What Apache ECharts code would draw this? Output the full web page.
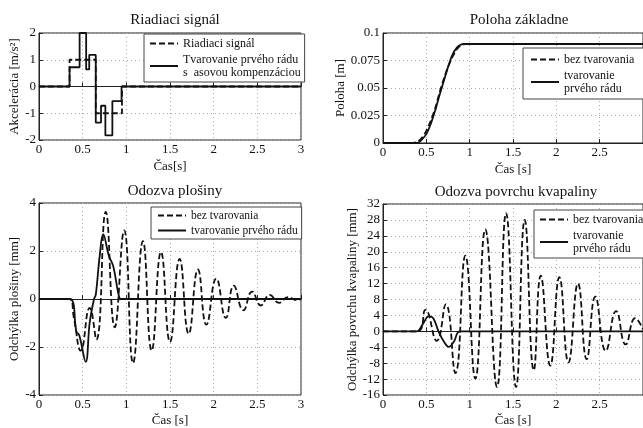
<!DOCTYPE html>
<html>
<head>
<meta charset="utf-8">
<script src="https://cdn.jsdelivr.net/npm/echarts@6/dist/echarts.min.js"></script>
<style>
  html, body { margin: 0; padding: 0; background: #fff; }
  #chart { width: 643px; height: 428px; }
</style>
</head>
<body>
<div id="chart"></div>
<script>
// time [s], value pairs
const accReference = [[0, 0], [0.35, 0], [0.35, 1], [0.65, 1], [0.65, -1], [0.95, -1], [0.95, 0], [3, 0]];
const accShaped = [[0, 0], [0.35, 0], [0.35, 0.72], [0.465, 0.72], [0.465, 2], [0.54, 2], [0.54, 0.64],
  [0.575, 0.64], [0.575, 1.18], [0.65, 1.18], [0.65, -1.35], [0.71, -1.35], [0.71, -0.72], [0.76, -0.72],
  [0.76, -1.83], [0.84, -1.83], [0.84, -0.55], [0.945, -0.55], [0.945, 0], [3, 0]];

const posUnshaped = [[0, 0], [0.35, 0], [0.4, 0.0012], [0.45, 0.005], [0.5, 0.011], [0.55, 0.02], [0.6, 0.031],
  [0.65, 0.045], [0.7, 0.058], [0.75, 0.069], [0.8, 0.078], [0.85, 0.085], [0.9, 0.089], [0.95, 0.09], [3, 0.09]];
const posShaped = [[0, 0], [0.37, 0], [0.42, 0.001], [0.47, 0.005], [0.5, 0.008], [0.55, 0.017], [0.6, 0.029],
  [0.65, 0.043], [0.7, 0.056], [0.75, 0.069], [0.8, 0.08], [0.85, 0.0865], [0.9, 0.0895], [0.94, 0.09], [3, 0.09]];

const platUnshaped = [[0, 0], [0.35, 0], [0.4, -0.8], [0.478, -2.15], [0.58, -0.37], [0.657, -1.69], [0.764, 3.63],
  [0.867, -1.18], [0.975, 2.86], [1.077, -2.67], [1.19, 2.41], [1.29, -2.15], [1.397, 1.96], [1.5, -1.79],
  [1.61, 1.67], [1.714, -1.45], [1.82, 1.23], [1.917, -1.07], [2.03, 0.85], [2.14, -0.79], [2.23, 0.56],
  [2.34, -0.47], [2.44, 0.31], [2.54, -0.27], [2.64, 0.17], [2.75, -0.16], [2.85, 0.08], [2.95, -0.05], [3, 0]];
const platShaped = [[0, 0], [0.35, 0], [0.43, -1.38], [0.46, -1.5], [0.535, -2.62], [0.58, -1.0], [0.63, 0],
  [0.65, 0.17], [0.695, 1.8], [0.735, 2.7], [0.8, 1.8], [0.85, 1.37], [0.92, 0.05], [0.95, 0], [3, 0]];

const surfUnshaped = [[0, 0], [0.4, 0], [0.49, 5.4], [0.62, -2.4], [0.725, 6.8], [0.835, -10.5], [0.95, 19],
  [1.065, -11.9], [1.18, 25.6], [1.315, -14], [1.42, 29.7], [1.535, -14], [1.635, 28], [1.74, -9.8], [1.82, 14],
  [1.93, -8.6], [2.035, 13.6], [2.14, -7.8], [2.25, 12], [2.35, -7], [2.45, 8.7], [2.57, -4.9], [2.69, 5.1],
  [2.8, -3.3], [2.91, 3.3], [3, 0.5]];
const surfShaped = [[0, 0], [0.39, 0], [0.45, 1.5], [0.53, 3.75], [0.58, 3.3], [0.64, 0], [0.7, -2.5],
  [0.76, -3.9], [0.82, -2.5], [0.89, 0], [3, 0]];

const titles = ['Riadiaci signál', 'Poloha základne', 'Odozva plošiny', 'Odozva povrchu kvapaliny'];
const yNames = ['Akcelerácia [m/s²]', 'Poloha [m]', 'Odchýlka plošiny [mm]', 'Odchýlka povrchu kvapaliny [mm]'];
const xNames = ['Čas[s]', 'Čas [s]', 'Čas [s]', 'Čas [s]'];
const yMin = [-2, 0, -4, -16];
const yMax = [2, 0.1, 4, 32];
const yStep = [1, 0.025, 2, 4];

const NAME_REF = 'Riadiaci signál';
const NAME_SHAPED_COMP = 'Tvarovanie prvého rádu\ns  asovou kompenzáciou';
const NAME_UNSHAPED = 'bez tvarovania';
const NAME_SHAPED_2L = 'tvarovanie\nprvého rádu';
const NAME_SHAPED_1L = 'tvarovanie prvého rádu';

const FONT = 'Liberation Serif';
const chart = echarts.init(document.getElementById('chart'));

const grids = [
  { left: 39, top: 33, width: 262, height: 107 },
  { left: 383, top: 33, width: 261, height: 110 },
  { left: 39, top: 203, width: 262, height: 196 },
  { left: 383, top: 204, width: 261, height: 194 }
];
const yNameGap = [18, 34, 18, 23];
const xNameGap = [20, 20, 19, 19];

const mkLine = (name, data, idx, dashed, smooth) => ({
  name,
  type: 'line',
  data,
  xAxisIndex: idx,
  yAxisIndex: idx,
  symbol: 'none',
  smooth: smooth,
  animation: false,
  lineStyle: { color: '#111', width: 1.8, type: dashed ? [6, 3] : 'solid' },
  itemStyle: { color: '#111' },
  z: dashed ? 2 : 3
});

const legendBase = {
  orient: 'vertical',
  itemWidth: 28,
  itemHeight: 12,
  itemGap: 3,
  borderColor: '#444',
  borderWidth: 1,
  backgroundColor: '#fff',
  selectedMode: false,
  itemStyle: { opacity: 0 },
  textStyle: { fontFamily: FONT, fontSize: 12, color: '#111', lineHeight: 13 }
};

const option = {
  backgroundColor: '#fff',
  animation: false,
  title: titles.map((t, i) => ({
    text: t,
    left: [170, 514, 170, 511][i],
    top: [8, 8, 179, 180][i],
    textAlign: 'center',
    textStyle: { fontFamily: FONT, fontSize: 15, fontWeight: 'normal', color: '#111' }
  })),
  grid: grids.map(g => Object.assign({ show: true, borderColor: '#222', borderWidth: 1, containLabel: false }, g)),
  xAxis: grids.map((g, i) => ({
    type: 'value',
    gridIndex: i,
    min: 0,
    max: 3,
    interval: 0.5,
    name: xNames[i],
    nameLocation: 'middle',
    nameGap: xNameGap[i],
    nameTextStyle: { fontFamily: FONT, fontSize: 13, color: '#111' },
    axisLine: { show: true, lineStyle: { color: '#222' } },
    axisTick: { show: true, inside: true, length: 4, lineStyle: { color: '#222' } },
    axisLabel: { fontFamily: FONT, fontSize: 13, color: '#111', margin: 3, showMaxLabel: i % 2 === 0 },
    splitLine: { show: true, lineStyle: { color: '#aaa', type: [1, 3] } }
  })),
  yAxis: grids.map((g, i) => ({
    type: 'value',
    gridIndex: i,
    min: yMin[i],
    max: yMax[i],
    interval: yStep[i],
    name: yNames[i],
    nameLocation: 'middle',
    nameGap: yNameGap[i],
    nameTextStyle: { fontFamily: FONT, fontSize: 13, color: '#111' },
    axisLine: { show: true, lineStyle: { color: '#222' } },
    axisTick: { show: true, inside: true, length: 4, lineStyle: { color: '#222' } },
    axisLabel: { fontFamily: FONT, fontSize: 13, color: '#111', margin: 3 },
    splitLine: { show: true, lineStyle: { color: '#aaa', type: [1, 3] } }
  })),
  legend: [
    Object.assign({}, legendBase, {
      left: 144, top: 34, padding: [3, 4, 3, 5],
      data: [NAME_REF, NAME_SHAPED_COMP]
    }),
    Object.assign({}, legendBase, {
      left: 523, top: 48, padding: [5, 30, 4, 7],
      data: [NAME_UNSHAPED, NAME_SHAPED_2L]
    }),
    Object.assign({}, legendBase, {
      left: 151, top: 207, padding: [2, 4, 2, 6], itemGap: 2,
      textStyle: { fontFamily: FONT, fontSize: 11.5, color: '#111', lineHeight: 13 },
      data: [NAME_UNSHAPED, NAME_SHAPED_1L]
    }),
    Object.assign({}, legendBase, {
      left: 534, top: 210, padding: [3, 30, 3, 5],
      data: [NAME_UNSHAPED, NAME_SHAPED_2L]
    })
  ],
  series: [
    mkLine(NAME_REF, accReference, 0, true, false),
    mkLine(NAME_SHAPED_COMP, accShaped, 0, false, false),
    mkLine(NAME_UNSHAPED, posUnshaped, 1, true, 0.3),
    mkLine(NAME_SHAPED_2L, posShaped, 1, false, 0.3),
    mkLine(NAME_UNSHAPED, platUnshaped, 2, true, 0.5),
    mkLine(NAME_SHAPED_1L, platShaped, 2, false, 0.4),
    mkLine(NAME_UNSHAPED, surfUnshaped, 3, true, 0.5),
    mkLine(NAME_SHAPED_2L, surfShaped, 3, false, 0.4)
  ]
};

chart.setOption(option);
window.addEventListener('resize', () => chart.resize());
</script>
</body>
</html>
